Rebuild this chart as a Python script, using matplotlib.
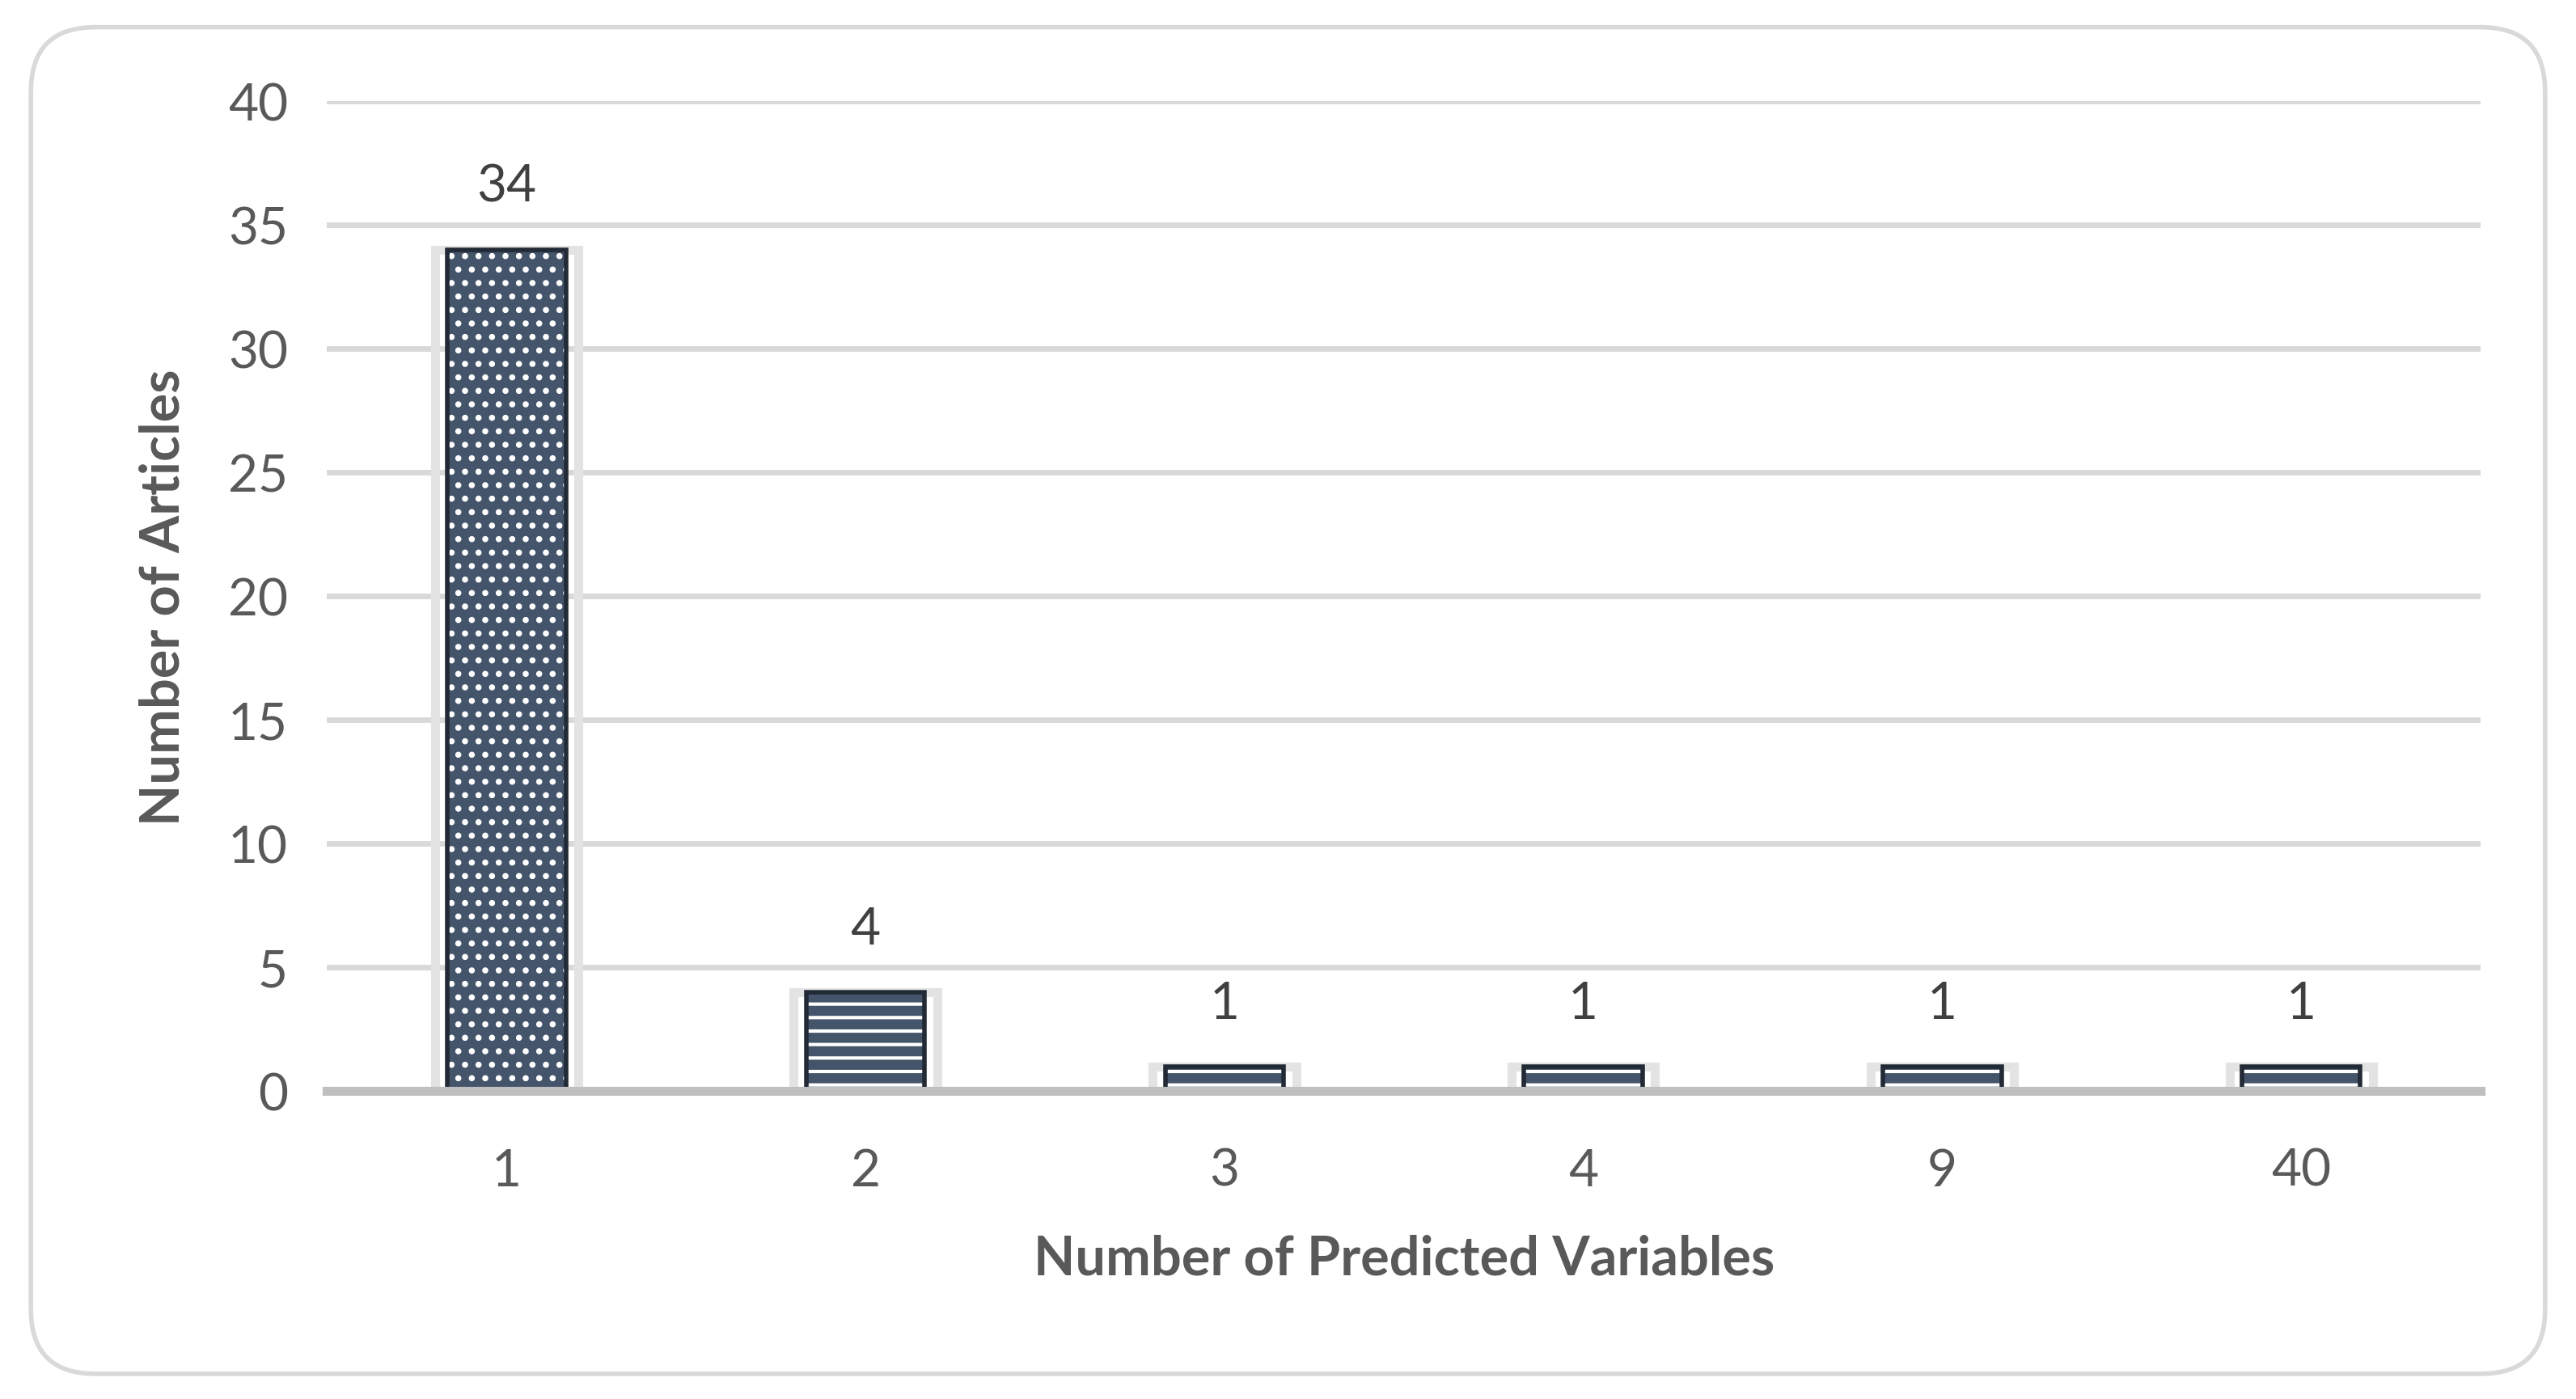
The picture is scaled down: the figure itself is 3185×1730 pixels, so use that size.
import matplotlib.pyplot as plt
from matplotlib.patches import FancyBboxPatch

# data
categories = ["1", "2", "3", "4", "9", "40"]
articles = [34, 4, 1, 1, 1, 1]
hatches = [".", "-", "-", "-", "-", "-"]

plt.rcParams['font.family'] = ['Lato', 'DejaVu Sans']
plt.rcParams['hatch.linewidth'] = 3

fig = plt.figure(figsize=(31.85, 17.31), dpi=100)
ax = fig.add_axes([0.127, 0.22, 0.836, 0.707])

# rounded frame around the whole chart
frame = FancyBboxPatch((0.012, 0.018), 0.976, 0.962, boxstyle="round,pad=0,rounding_size=0.025",
                       transform=fig.transFigure, facecolor="none", edgecolor="#D9D9D9",
                       linewidth=4, mutation_aspect=3185 / 1731)
fig.patches.append(frame)

x = range(len(categories))
# fill with white hatch
ax.bar(x, articles, width=0.33, color="#44546A", edgecolor="white", linewidth=0,
       hatch=hatches, zorder=3)
# dark inner edge + light outer outline
ax.bar(x, articles, width=0.33, fill=False, edgecolor="#222A35", linewidth=4, zorder=4)
ax.bar(x, articles, width=0.40, fill=False, edgecolor="#E3E3E3", linewidth=8, zorder=2)

for xi, v in zip(x, articles):
    ax.text(xi, v + 1.6, str(v), ha="center", va="bottom", fontsize=46, color="#404040")

ax.set_ylim(0, 40)
ax.set_xlim(-0.5, len(categories) - 0.5)
ax.set_yticks(range(0, 41, 5))
ax.set_xticks(list(x))
ax.set_xticklabels(categories)
ax.tick_params(axis="both", length=0, labelsize=46, labelcolor="#595959")
ax.tick_params(axis="x", pad=50)
ax.tick_params(axis="y", pad=35)
ax.grid(axis="y", color="#D9D9D9", linewidth=5, zorder=0)
ax.set_axisbelow(True)
for s in ["top", "right", "left"]:
    ax.spines[s].set_visible(False)
ax.spines["bottom"].set_color("#BFBFBF")
ax.spines["bottom"].set_linewidth(8)
ax.spines["bottom"].set_zorder(5)

ax.set_xlabel("Number of Predicted Variables", fontsize=48, fontweight="bold",
              color="#595959", labelpad=35)
ax.set_ylabel("Number of Articles", fontsize=48, fontweight="bold",
              color="#595959", labelpad=35)

fig.savefig("out.png", dpi=100)
